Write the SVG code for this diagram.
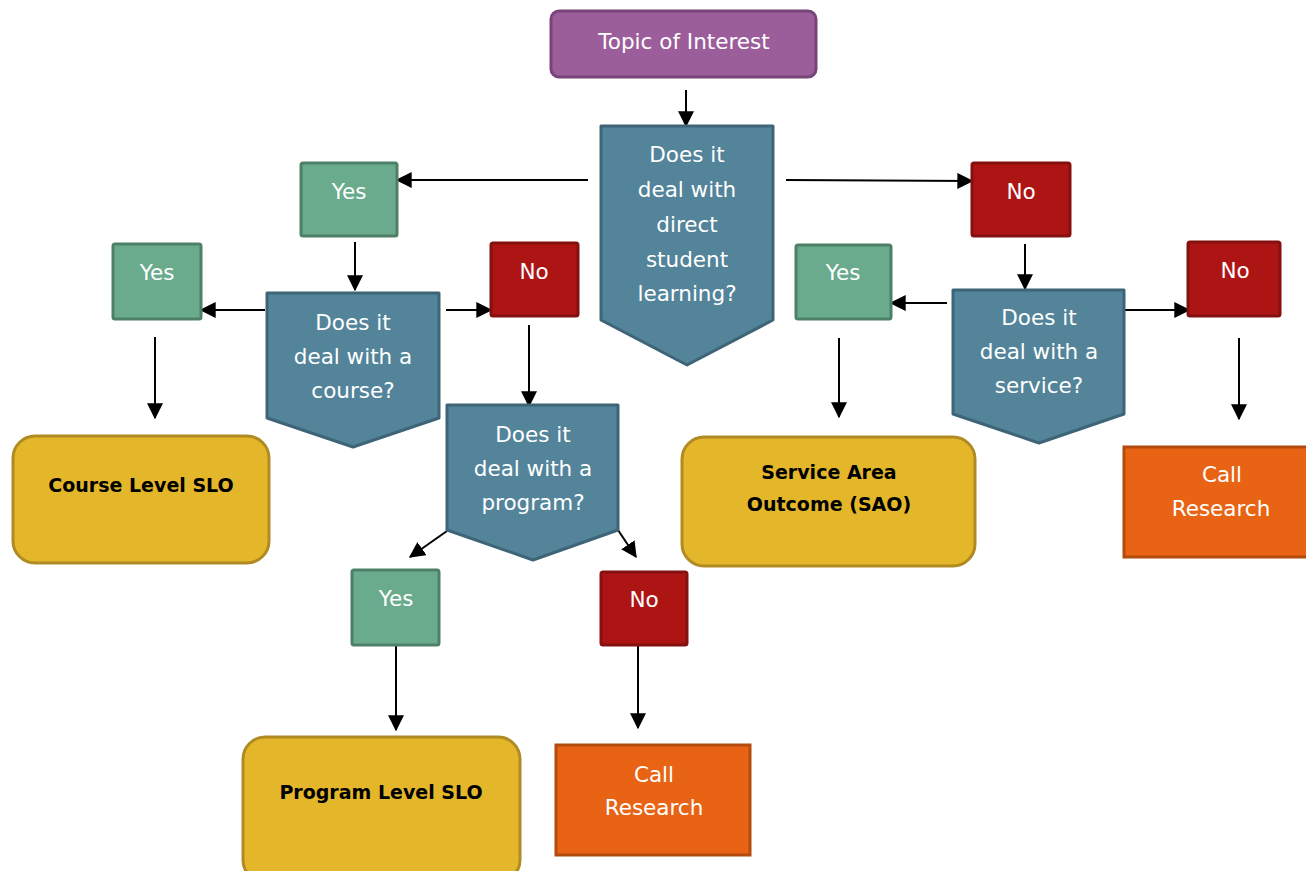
<svg xmlns="http://www.w3.org/2000/svg" width="1306" height="871" viewBox="0 0 1306 871">
<defs>
<marker id="ah" viewBox="0 0 12 12" refX="11" refY="6" markerWidth="16" markerHeight="16" markerUnits="userSpaceOnUse" orient="auto"><path d="M0,0 L12,6 L0,12 z" fill="#000"/></marker>
<style>
.c{stroke:#000;stroke-width:2;fill:none;marker-end:url(#ah)}
.q{fill:#53849a;stroke:#3e6478;stroke-width:3;stroke-linejoin:round}
.y{fill:#69ab8c;stroke:#4e8068;stroke-width:3}
.n{fill:#ad1515;stroke:#841010;stroke-width:3}
.o{fill:#e86414;stroke:#b34a0e;stroke-width:3}
.g{fill:#e4b62a;stroke:#b08a22;stroke-width:3}
.p{fill:#9b5e9b;stroke:#77457a;stroke-width:3}
.w{font-family:"DejaVu Sans",sans-serif;font-size:21.5px;fill:#fff;text-anchor:middle}
.b{font-family:"DejaVu Sans",sans-serif;font-weight:bold;font-size:19px;fill:#000;text-anchor:middle}
</style>
</defs>
<g id="connectors">
<line class="c" x1="686" y1="90" x2="686" y2="126"/>
<line class="c" x1="588" y1="180" x2="397" y2="180"/>
<line class="c" x1="786" y1="180" x2="972" y2="181"/>
<line class="c" x1="355" y1="242" x2="355" y2="290"/>
<line class="c" x1="265" y1="310" x2="201" y2="310"/>
<line class="c" x1="446" y1="310" x2="491" y2="310"/>
<line class="c" x1="155" y1="337" x2="155" y2="418"/>
<line class="c" x1="529" y1="325" x2="529" y2="406"/>
<line class="c" x1="447" y1="531" x2="410" y2="557"/>
<line class="c" x1="618" y1="530" x2="636" y2="557"/>
<line class="c" x1="396" y1="645" x2="396" y2="730"/>
<line class="c" x1="638" y1="645" x2="638" y2="728"/>
<line class="c" x1="1025" y1="244" x2="1025" y2="289"/>
<line class="c" x1="947" y1="303" x2="891" y2="303"/>
<line class="c" x1="1120" y1="310" x2="1189" y2="310"/>
<line class="c" x1="839" y1="338" x2="839" y2="417"/>
<line class="c" x1="1239" y1="338" x2="1239" y2="419"/>
</g>
<g id="topic"><rect class="p" x="551" y="11" width="265" height="66" rx="8"/><text class="w" x="684" y="49">Topic of Interest</text></g>
<g id="q-student"><path class="q" d="M601,126 L773,126 L773,320 L687,365 L601,320 Z"/>
<text class="w" x="687" y="162">Does it</text><text class="w" x="687" y="197">deal with</text><text class="w" x="687" y="232">direct</text><text class="w" x="687" y="267">student</text><text class="w" x="687" y="301">learning?</text></g>
<g id="yes-1"><rect class="y" x="301" y="163" width="96" height="73" rx="2"/><text class="w" x="349" y="199">Yes</text></g>
<g id="no-1"><rect class="n" x="972" y="163" width="98" height="73" rx="2"/><text class="w" x="1021" y="199">No</text></g>
<g id="q-course"><path class="q" d="M267,293 L439,293 L439,418 L353,447 L267,418 Z"/>
<text class="w" x="353" y="330">Does it</text><text class="w" x="353" y="364">deal with a</text><text class="w" x="353" y="398">course?</text></g>
<g id="yes-2"><rect class="y" x="113" y="244" width="88" height="75" rx="2"/><text class="w" x="157" y="280">Yes</text></g>
<g id="no-2"><rect class="n" x="491" y="243" width="87" height="73" rx="2"/><text class="w" x="534" y="279">No</text></g>
<g id="course-slo"><rect class="g" x="13" y="436" width="256" height="127" rx="22"/><text class="b" x="141" y="492">Course Level SLO</text></g>
<g id="q-program"><path class="q" d="M447,405 L618,405 L618,530 L533,560 L447,530 Z"/>
<text class="w" x="533" y="442">Does it</text><text class="w" x="533" y="476">deal with a</text><text class="w" x="533" y="510">program?</text></g>
<g id="yes-3"><rect class="y" x="352" y="570" width="87" height="75" rx="2"/><text class="w" x="396" y="606">Yes</text></g>
<g id="no-3"><rect class="n" x="601" y="572" width="86" height="73" rx="2"/><text class="w" x="644" y="607">No</text></g>
<g id="program-slo"><rect class="g" x="243" y="737" width="277" height="145" rx="22"/><text class="b" x="381" y="799">Program Level SLO</text></g>
<g id="call-1"><rect class="o" x="556" y="745" width="194" height="110"/><text class="w" x="654" y="782">Call</text><text class="w" x="654" y="815">Research</text></g>
<g id="q-service"><path class="q" d="M953,290 L1124,290 L1124,414 L1039,443 L953,414 Z"/>
<text class="w" x="1039" y="325">Does it</text><text class="w" x="1039" y="359">deal with a</text><text class="w" x="1039" y="393">service?</text></g>
<g id="yes-4"><rect class="y" x="796" y="245" width="95" height="74" rx="2"/><text class="w" x="843" y="280">Yes</text></g>
<g id="no-4"><rect class="n" x="1188" y="242" width="92" height="74" rx="2"/><text class="w" x="1235" y="278">No</text></g>
<g id="sao"><rect class="g" x="682" y="437" width="293" height="129" rx="22"/><text class="b" x="829" y="479">Service Area</text><text class="b" x="829" y="511">Outcome (SAO)</text></g>
<g id="call-2"><rect class="o" x="1124" y="447" width="192" height="110"/><text class="w" x="1222" y="482">Call</text><text class="w" x="1221" y="516">Research</text></g>
</svg>
